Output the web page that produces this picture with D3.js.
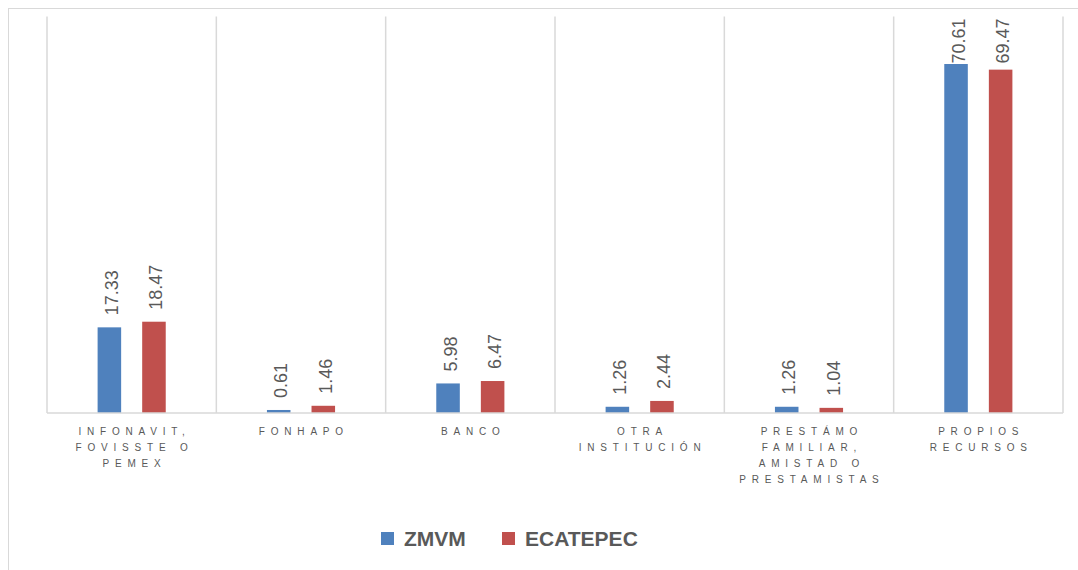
<!DOCTYPE html>
<html>
<head>
<meta charset="utf-8">
<script src="https://cdn.jsdelivr.net/npm/d3@7"></script>
<style>
  html, body { margin: 0; padding: 0; background: #fff; }
  svg { display: block; }
</style>
</head>
<body>
<svg id="chart" width="1078" height="570"></svg>
<script>
// Financing source for housing, share of households (%)
const categories = [
  ["INFONAVIT,", "FOVISSTE O", "PEMEX"],
  ["FONHAPO"],
  ["BANCO"],
  ["OTRA", "INSTITUCIÓN"],
  ["PRESTÁMO", "FAMILIAR,", "AMISTAD O", "PRESTAMISTAS"],
  ["PROPIOS", "RECURSOS"]
];
const seriesNames = ["ZMVM", "ECATEPEC"];
const zmvm = [17.33, 0.61, 5.98, 1.26, 1.26, 70.61];
const ecatepec = [18.47, 1.46, 6.47, 2.44, 1.04, 69.47];
const colors = ["#4f81bd", "#c0504d"];
const yMax = 80;

const svg = d3.select("#chart");
const W = 1078, H = 570;
const plot = { left: 47, right: 1063, top: 17.6, bottom: 413 };

// chart frame
svg.append("rect")
  .attr("x", 8.5).attr("y", 8.5)
  .attr("width", W + 10).attr("height", H + 10)
  .attr("fill", "#fff").attr("stroke", "#d9d9d9").attr("stroke-width", 1);

const keys = categories.map((c, i) => i);
const x0 = d3.scaleBand().domain(keys).range([plot.left, plot.right]).padding(0);
const x1 = d3.scaleBand().domain(seriesNames)
  .range([0, x0.bandwidth()]).paddingInner(0.472).paddingOuter(1.135);
const y = d3.scaleLinear().domain([0, yMax]).range([plot.bottom, plot.top]);

// category separators
const grid = svg.append("g");
d3.range(categories.length + 1).forEach(i => {
  const xx = i < categories.length ? x0(i) : plot.right;
  grid.append("line")
    .attr("x1", xx).attr("x2", xx)
    .attr("y1", plot.top - 1).attr("y2", plot.bottom)
    .attr("stroke", "#d9d9d9").attr("stroke-width", 1.5);
});

const rows = categories.map((c, i) => ({ i, values: [zmvm[i], ecatepec[i]] }));

const groups = svg.append("g").selectAll("g").data(rows).join("g")
  .attr("transform", d => `translate(${x0(d.i)},0)`);

groups.selectAll("rect")
  .data(d => d.values.map((v, k) => ({ v, k })))
  .join("rect")
  .attr("x", d => x1(seriesNames[d.k]))
  .attr("y", d => y(d.v))
  .attr("width", x1.bandwidth())
  .attr("height", d => y(0) - y(d.v))
  .attr("fill", d => colors[d.k]);

// value labels, rotated, kept inside the plot area
groups.selectAll("text.val")
  .data(d => d.values.map((v, k) => ({ v, k })))
  .join("text")
  .attr("class", "val")
  .attr("transform", d => {
    const cx = x1(seriesNames[d.k]) + x1.bandwidth() / 2;
    const cy = Math.max(y(d.v) - 12, plot.top + 46);
    return `translate(${cx + 8.5},${cy}) rotate(-90)`;
  })
  .attr("text-anchor", "start")
  .attr("font-family", "Liberation Sans, Arial, sans-serif")
  .attr("font-size", 18)
  .attr("fill", "#595959")
  .text(d => d.v.toFixed(2));

// baseline
svg.append("line")
  .attr("x1", plot.left).attr("x2", plot.right)
  .attr("y1", plot.bottom).attr("y2", plot.bottom)
  .attr("stroke", "#d9d9d9").attr("stroke-width", 1.5);

// category labels
const ls = 5.8;
const catLabels = svg.append("g")
  .attr("font-family", "Liberation Sans, Arial, sans-serif")
  .attr("font-size", 10)
  .attr("fill", "#595959")
  .attr("letter-spacing", ls);
categories.forEach((lines, i) => {
  const cx = x0(i) + x0.bandwidth() / 2 + ls / 2;
  lines.forEach((t, j) => {
    catLabels.append("text")
      .attr("x", cx).attr("y", 435 + j * 16)
      .attr("text-anchor", "middle")
      .text(t);
  });
});

// legend
const legend = svg.append("g").attr("transform", "translate(381,532)");
const legendX = [0, 121];
seriesNames.forEach((name, k) => {
  const g = legend.append("g").attr("transform", `translate(${legendX[k]},0)`);
  g.append("rect").attr("width", 13).attr("height", 13).attr("fill", colors[k]);
  g.append("text")
    .attr("x", 23).attr("y", 14)
    .attr("font-family", "Liberation Sans, Arial, sans-serif")
    .attr("font-size", 21)
    .attr("font-weight", "bold")
    .attr("fill", "#595959")
    .text(name);
});
</script>
</body>
</html>
